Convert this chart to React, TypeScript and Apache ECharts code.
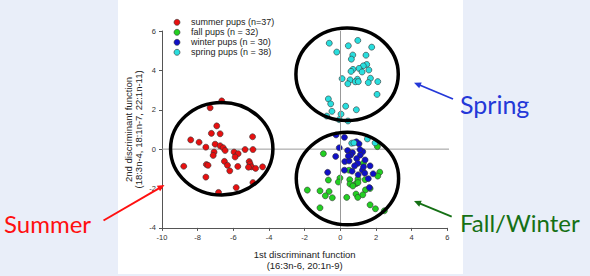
import React, { useEffect, useRef } from "react";
import * as echarts from "echarts";

const seriesNames = ["summer pups (n=37)", "fall pups (n = 32)", "winter pups (n = 30)", "spring pups (n = 38)"];
const seriesColors = ["#e81010", "#22d022", "#1010c8", "#28dede"];

const summerPups: [number, number][] = [
  [-7.3, 2.1], [-6.65, 2.45], [-6.93, 1.18], [-7.23, 0.8], [-6.74, 0.78], [-4.92, 0.63], [-8.39, 0.47],
  [-7.92, 0.35], [-7.02, 0.25], [-7.54, 0.1], [-6.74, 0.17], [-6.57, 0.07], [-6.46, -0.07], [-5.34, -0.02],
  [-4.9, -0.02], [-5.96, -0.15], [-5.73, -0.23], [-5.9, -0.4], [-7.08, -0.15], [-7.13, -0.32], [-6.5, -0.62],
  [-5.11, -0.63], [-7.51, -0.78], [-7.42, -0.82], [-6.33, -0.82], [-5.75, -0.88], [-5.06, -0.75], [-4.98, -0.9],
  [-5.15, -0.92], [-4.75, -0.98], [-4.36, -0.9], [-8.78, -0.87], [-6.2, -1.1], [-7.54, -1.42], [-4.9, -1.7],
  [-5.84, -1.95], [-6.83, -2.2],
];

const fallPups: [number, number][] = [
  [-0.95, -0.23], [2.08, 0.13], [1.29, -0.72], [0.49, -1.07], [2.21, -1.17], [2.1, -1.37], [-0.67, -1.57],
  [-0.02, -1.47], [-0.11, -1.67], [0.53, -1.55], [0.99, -1.52], [0.54, -1.77], [0.88, -1.75], [0.7, -1.87],
  [0.99, -1.7], [1.67, -2.0], [1.41, -2.07], [-1.85, -2.08], [-1.14, -2.12], [-0.63, -2.15], [-0.84, -2.37],
  [-0.45, -2.47], [0.36, -2.45], [0.88, -2.28], [0.98, -2.45], [1.26, -2.32], [-1.14, -2.98], [1.67, -2.83],
  [1.97, -3.03], [2.47, -3.13], [1.39, -1.55],
];

const winterPups: [number, number][] = [
  [-0.24, 0.72], [0.23, 0.6], [0.9, 0.37], [1.05, 0.27], [-0.06, 0.07], [0.41, -0.07], [0.68, -0.18],
  [0.58, -0.3], [1.26, -0.13], [1.12, -0.3], [0.92, -0.48], [0.25, -0.63], [0.49, -0.6], [1.39, -0.55],
  [0.98, -0.72], [1.67, -0.85], [0.23, -1.07], [0.66, -1.12], [1.24, -1.07], [1.37, -1.22], [1.84, -1.25],
  [-0.71, -1.18], [1.57, -1.5], [1.63, -1.95], [-0.26, -0.37], [1.1, -0.02], [0.8, -0.85], [1.3, -0.9],
  [0.45, -0.35], [1.0, -1.3],
];

const springPups: [number, number][] = [
  [-0.62, 5.38], [0.98, 5.52], [0.45, 5.25], [1.76, 5.18], [-0.2, 4.93], [0.7, 4.78], [1.44, 4.77],
  [0.62, 4.57], [1.48, 4.3], [1.29, 4.23], [1.05, 4.1], [0.71, 4.05], [0.6, 3.95], [1.6, 4.02],
  [1.22, 3.92], [0.1, 3.58], [0.55, 3.52], [0.96, 3.55], [0.84, 3.42], [0.42, 3.32], [1.01, 3.43],
  [1.69, 3.6], [1.57, 3.38], [2.1, 3.43], [2.06, 2.78], [-0.67, 2.55], [-0.54, 2.3], [0.3, 2.18],
  [0.9, 2.0], [-0.47, 1.92], [0.04, 1.78], [-0.76, 1.68], [-0.06, 1.5], [0.43, 1.43], [0.64, 0.3],
  [0.76, 0.32], [1.52, 0.52], [1.95, 0.32],
];

// group circles: [centerX, centerY, radiusX, radiusY] in data units
const groupCircles: number[][] = [
  [-6.65, 0.02, 2.87, 2.35],
  [0.38, 3.8, 2.87, 2.35],
  [0.4, -1.49, 2.87, 2.35],
];

const zeroLineX = [-10, 6.3];

const xAxisTitle = "1st discriminant function\n(16:3n-6, 20:1n-9)";
const yAxisTitle = "2nd discriminant function\n(18:3n-4, 18:1n-7, 22:1n-11)";

function arrow(x1: number, y1: number, x2: number, y2: number, color: string, w: number) {
  const dx = x2 - x1;
  const dy = y2 - y1;
  const len = Math.sqrt(dx * dx + dy * dy);
  const ux = dx / len;
  const uy = dy / len;
  const hl = 7;
  const hw = 3.2;
  const bx = x2 - ux * hl;
  const by = y2 - uy * hl;
  const nx = -uy;
  const ny = ux;
  return [
    {
      type: "line",
      shape: { x1, y1, x2: bx + ux * 1, y2: by + uy * 1 },
      style: { stroke: color, lineWidth: w },
      silent: true,
      z: 20,
    },
    {
      type: "polygon",
      shape: {
        points: [
          [x2, y2],
          [bx + nx * hw, by + ny * hw],
          [bx - nx * hw, by - ny * hw],
        ],
      },
      style: { fill: color },
      silent: true,
      z: 20,
    },
  ];
}

const FONT = "'Liberation Sans', Arial, Helvetica, sans-serif";
const ANN_FONT = "Lato, 'Open Sans', sans-serif";

export default function App() {
  const ref = useRef<HTMLDivElement>(null);
  useEffect(() => {
    if (!ref.current) return;
    const chart = echarts.init(ref.current, undefined, { renderer: "svg" });
    const scatter = (name: string, data: [number, number][], color: string) => ({
      name,
      type: "scatter",
      data,
      symbol: "circle",
      symbolSize: 6,
      itemStyle: { color, borderColor: "#333", borderWidth: 0.6, opacity: 1 },
      z: 3,
    });
    chart.setOption({
      animation: false,
      backgroundColor: "#e9eef9",
      textStyle: { fontFamily: FONT },
      grid: { left: 162, right: 142.7, top: 31, bottom: 45, containLabel: false },
      legend: {
        data: seriesNames,
        orient: "vertical",
        left: 173.7,
        top: 17.3,
        padding: 0,
        itemGap: 0,
        itemWidth: 6,
        itemHeight: 6,
        icon: "circle",
        itemStyle: { borderWidth: 0.6, borderColor: "#333" },
        textStyle: { fontSize: 9, color: "#222", fontFamily: FONT, lineHeight: 10, padding: [0, 0, 0, 6] },
      },
      xAxis: {
        type: "value",
        min: -10,
        max: 6,
        interval: 2,
        name: xAxisTitle,
        nameLocation: "middle",
        nameGap: 20.5,
        nameTextStyle: { fontSize: 9.5, color: "#222", lineHeight: 11.3, fontFamily: FONT },
        splitLine: { show: false },
        axisLine: { show: true, onZero: false, lineStyle: { color: "#555", width: 1 } },
        axisTick: { show: true, inside: false, length: 3, lineStyle: { color: "#555" } },
        axisLabel: { fontSize: 7.5, color: "#333", margin: 6, fontFamily: FONT },
      },
      yAxis: {
        type: "value",
        min: -4,
        max: 6,
        interval: 2,
        name: yAxisTitle,
        nameLocation: "middle",
        nameRotate: 90,
        nameGap: 18,
        nameTextStyle: { fontSize: 9.5, color: "#222", lineHeight: 10.5, fontFamily: FONT },
        splitLine: { show: false },
        axisLine: { show: true, onZero: false, lineStyle: { color: "#555", width: 1 } },
        axisTick: { show: true, inside: false, length: 3, lineStyle: { color: "#555" } },
        axisLabel: { fontSize: 7.5, color: "#333", margin: 6, fontFamily: FONT },
      },
      graphic: [
        {
          type: "rect",
          shape: { x: 118, y: 0, width: 345, height: 274 },
          style: { fill: "#ffffff" },
          silent: true,
          z: -10,
        },
        ...arrow(103.5, 220.5, 164.5, 185, "#ff1010", 2),
        ...arrow(453, 99, 414, 82.7, "#2438d8", 1.8),
        ...arrow(451.7, 216.7, 414, 201, "#157015", 1.8),
        {
          type: "text",
          style: { text: "Summer", x: 4, y: 223, textVerticalAlign: "middle", font: `24px ${ANN_FONT}`, fill: "#ff1010" },
          silent: true,
          z: 20,
        },
        {
          type: "text",
          style: { text: "Spring", x: 460, y: 103.5, textVerticalAlign: "middle", font: `25px ${ANN_FONT}`, fill: "#2438d8" },
          silent: true,
          z: 20,
        },
        {
          type: "text",
          style: { text: "Fall/Winter", x: 460, y: 222.5, textVerticalAlign: "middle", font: `24px ${ANN_FONT}`, fill: "#157015" },
          silent: true,
          z: 20,
        },
      ],
      series: [
        {
          name: "zero-line",
          type: "line",
          data: zeroLineX.map((x) => [x, 0]),
          symbol: "none",
          clip: false,
          silent: true,
          lineStyle: { color: "#999", width: 1 },
          z: 1,
          markLine: {
            silent: true,
            symbol: "none",
            label: { show: false },
            lineStyle: { color: "#999", width: 1, type: "solid" },
            data: [{ xAxis: 0 }],
          },
        },
        scatter(seriesNames[0], summerPups, seriesColors[0]),
        scatter(seriesNames[1], fallPups, seriesColors[1]),
        scatter(seriesNames[2], winterPups, seriesColors[2]),
        scatter(seriesNames[3], springPups, seriesColors[3]),
        {
          name: "circles",
          type: "custom",
          data: groupCircles,
          clip: false,
          silent: true,
          z: 5,
          renderItem: (_params: any, api: any) => {
            const c = api.coord([api.value(0), api.value(1)]);
            const s = api.size([api.value(2), api.value(3)]);
            return {
              type: "ellipse",
              shape: { cx: c[0], cy: c[1], rx: s[0], ry: s[1] },
              style: { fill: "none", stroke: "#000", lineWidth: 3.5 },
            };
          },
        },
      ],
    });
    return () => chart.dispose();
  }, []);
  return <div ref={ref} style={{ position: "fixed", left: 0, top: 0, width: 590, height: 276 }} />;
}
